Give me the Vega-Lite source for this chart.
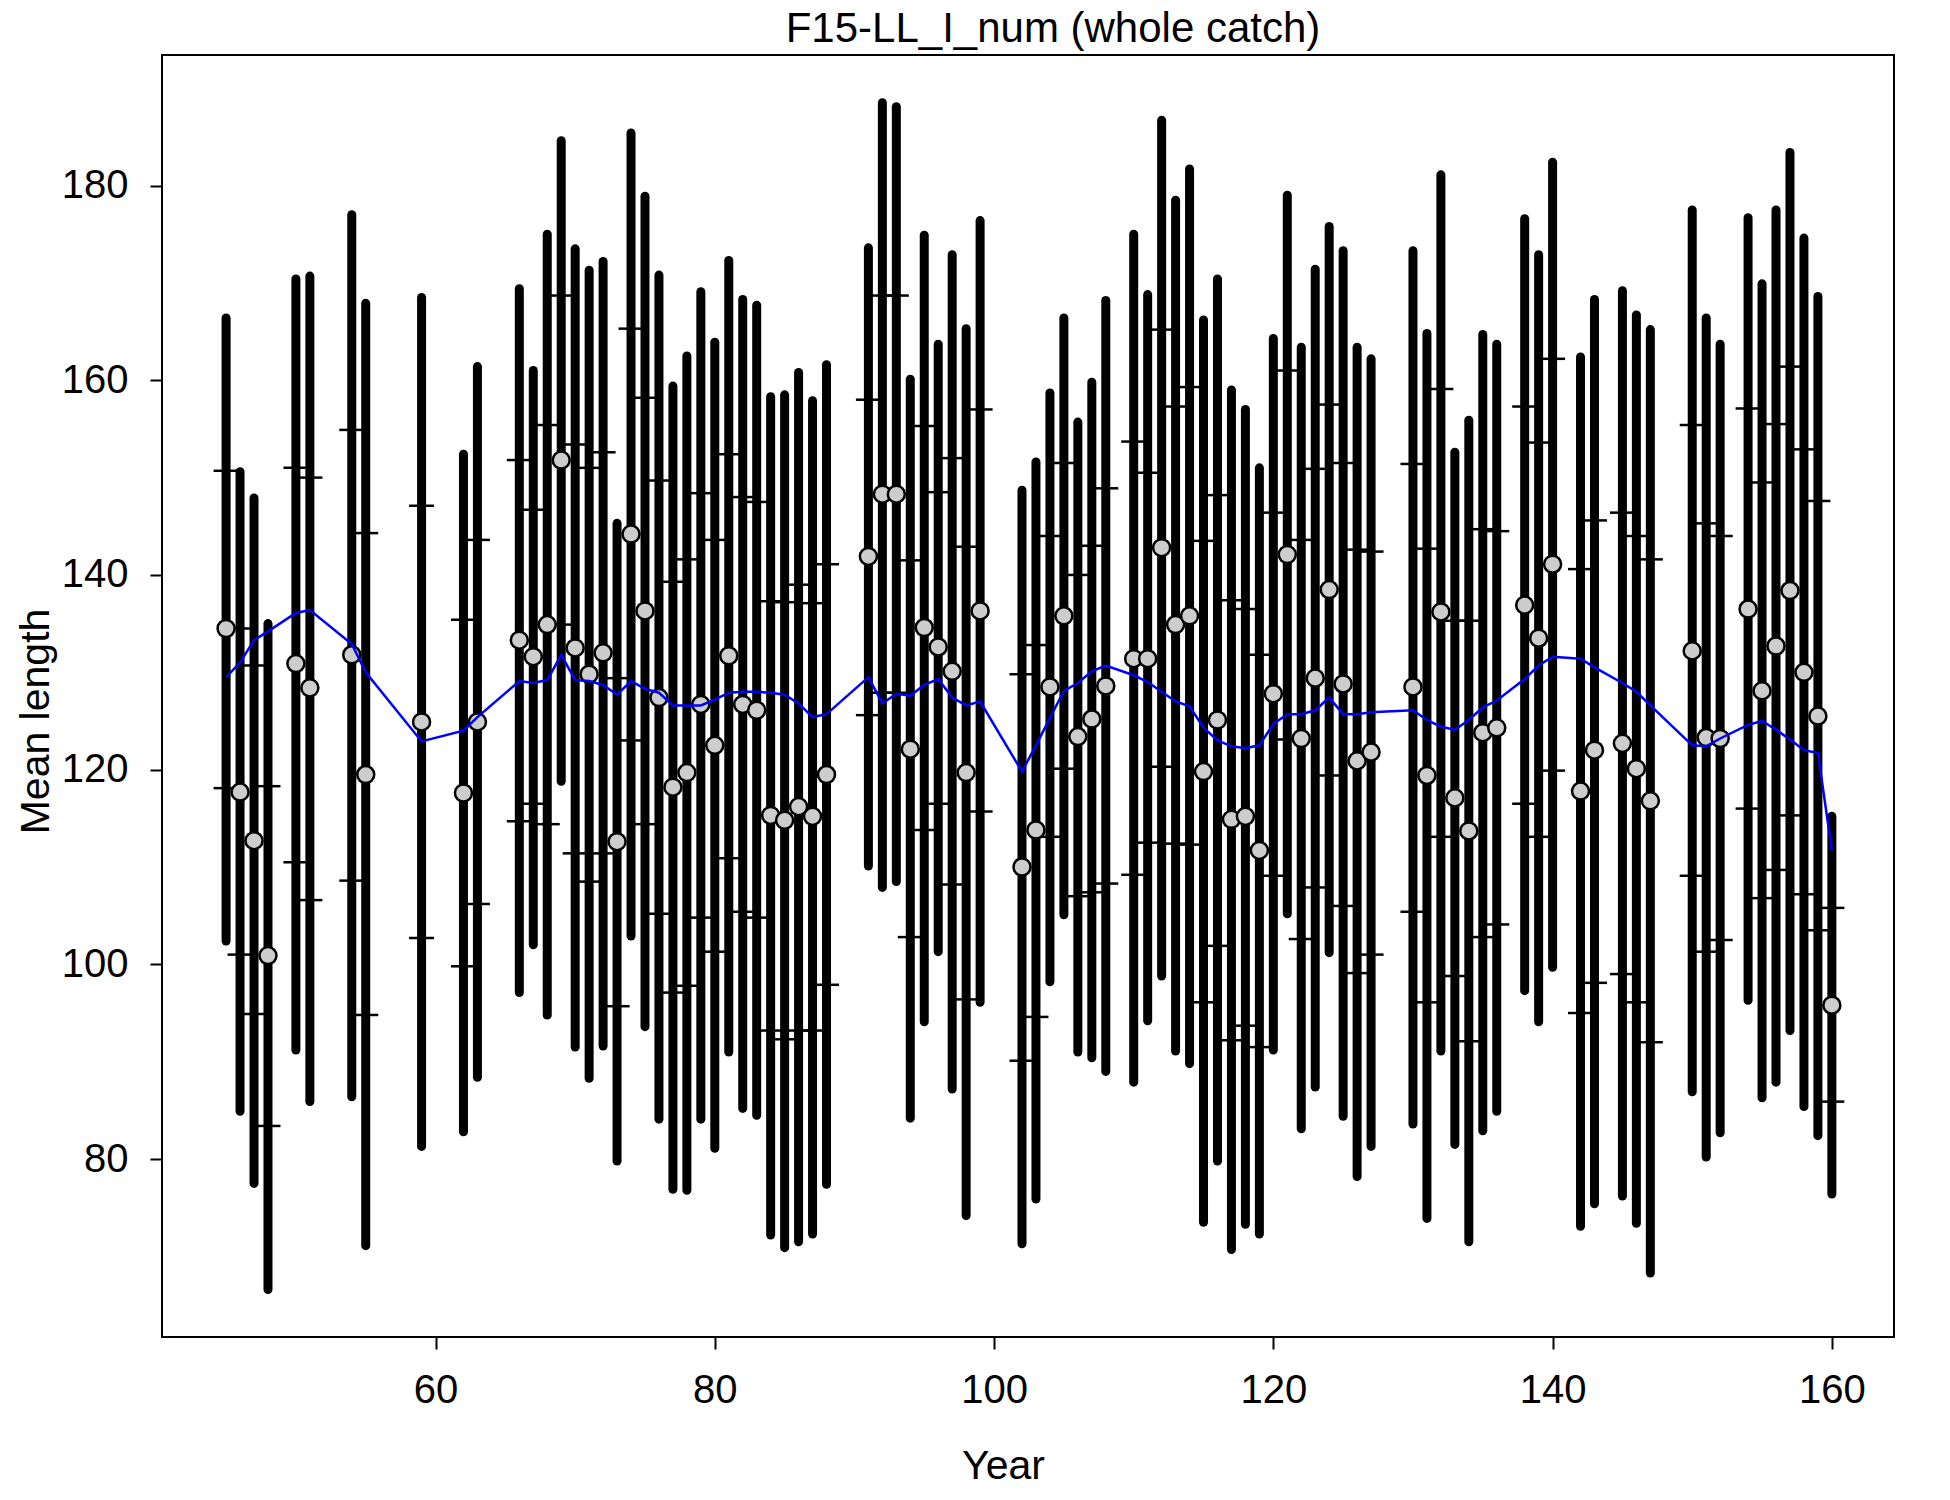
{
  "$schema": "https://vega.github.io/schema/vega-lite/v6.json",
  "autosize": {"type": "none"},
  "padding": {"left": 162, "top": 55, "right": 56, "bottom": 163},
  "width": 1732,
  "height": 1282,
  "background": "white",
  "title": {"text": "F15-LL_I_num (whole catch)", "font": "Liberation Sans", "fontSize": 42, "fontWeight": "normal", "color": "black", "anchor": "middle", "frame": "group", "baseline": "bottom", "offset": 4, "dx": 25, "dy": 42},
  "data": {"values": [
    {"year":45,"obs":134.5,"lo":102.4,"hi":166.4,"tlo":118.1,"thi":150.7,"exp":129.5},
    {"year":46,"obs":117.7,"lo":84.9,"hi":150.6,"tlo":101.0,"thi":134.5,"exp":131.0},
    {"year":47,"obs":112.7,"lo":77.5,"hi":147.9,"tlo":94.9,"thi":130.7,"exp":133.3},
    {"year":48,"obs":100.9,"lo":66.6,"hi":135.0,"tlo":83.4,"thi":118.3,"exp":134.2},
    {"year":50,"obs":130.9,"lo":91.2,"hi":170.4,"tlo":110.5,"thi":151.0,"exp":136.1},
    {"year":51,"obs":128.4,"lo":85.9,"hi":170.7,"tlo":106.6,"thi":150.0,"exp":136.4},
    {"year":54,"obs":131.8,"lo":86.4,"hi":177.0,"tlo":108.6,"thi":154.9,"exp":132.9},
    {"year":55,"obs":119.5,"lo":71.1,"hi":167.9,"tlo":94.8,"thi":144.3,"exp":130.0},
    {"year":59,"obs":124.9,"lo":81.3,"hi":168.5,"tlo":102.7,"thi":147.1,"exp":122.9},
    {"year":62,"obs":117.6,"lo":82.8,"hi":152.4,"tlo":99.8,"thi":135.4,"exp":124.0},
    {"year":63,"obs":124.9,"lo":88.4,"hi":161.4,"tlo":106.2,"thi":143.6,"exp":125.4},
    {"year":66,"obs":133.3,"lo":97.1,"hi":169.4,"tlo":114.7,"thi":151.8,"exp":129.1},
    {"year":67,"obs":131.6,"lo":102.0,"hi":161.0,"tlo":116.5,"thi":146.7,"exp":128.9},
    {"year":68,"obs":134.9,"lo":94.8,"hi":175.0,"tlo":114.4,"thi":155.4,"exp":129.2},
    {"year":69,"obs":151.8,"lo":118.8,"hi":184.6,"tlo":134.9,"thi":168.7,"exp":131.8},
    {"year":70,"obs":132.5,"lo":91.5,"hi":173.5,"tlo":111.4,"thi":153.4,"exp":129.2},
    {"year":71,"obs":129.8,"lo":88.3,"hi":171.3,"tlo":108.5,"thi":151.0,"exp":129.1},
    {"year":72,"obs":132.0,"lo":91.6,"hi":172.2,"tlo":111.4,"thi":152.6,"exp":128.7},
    {"year":73,"obs":112.6,"lo":79.8,"hi":145.3,"tlo":95.7,"thi":129.4,"exp":127.7},
    {"year":74,"obs":144.2,"lo":102.9,"hi":185.4,"tlo":123.0,"thi":165.3,"exp":129.1},
    {"year":75,"obs":136.3,"lo":93.6,"hi":178.9,"tlo":114.4,"thi":158.2,"exp":128.3},
    {"year":76,"obs":127.4,"lo":84.1,"hi":170.8,"tlo":105.2,"thi":149.7,"exp":127.9},
    {"year":77,"obs":118.2,"lo":76.9,"hi":159.4,"tlo":97.1,"thi":139.3,"exp":126.6},
    {"year":78,"obs":119.7,"lo":76.8,"hi":162.5,"tlo":97.8,"thi":141.6,"exp":126.6},
    {"year":79,"obs":126.7,"lo":84.1,"hi":169.1,"tlo":104.8,"thi":148.4,"exp":126.6},
    {"year":80,"obs":122.5,"lo":81.1,"hi":163.9,"tlo":101.3,"thi":143.6,"exp":127.2},
    {"year":81,"obs":131.7,"lo":91.0,"hi":172.3,"tlo":110.9,"thi":152.4,"exp":127.9},
    {"year":82,"obs":126.7,"lo":85.2,"hi":168.3,"tlo":105.4,"thi":148.0,"exp":128.0},
    {"year":83,"obs":126.1,"lo":84.5,"hi":167.7,"tlo":104.8,"thi":147.5,"exp":128.0},
    {"year":84,"obs":115.3,"lo":72.2,"hi":158.3,"tlo":93.2,"thi":137.3,"exp":127.9},
    {"year":85,"obs":114.8,"lo":70.9,"hi":158.5,"tlo":92.3,"thi":137.2,"exp":127.7},
    {"year":86,"obs":116.2,"lo":71.5,"hi":160.8,"tlo":93.2,"thi":139.0,"exp":126.8},
    {"year":87,"obs":115.2,"lo":72.3,"hi":157.9,"tlo":93.2,"thi":137.1,"exp":125.4},
    {"year":88,"obs":119.5,"lo":77.4,"hi":161.6,"tlo":97.9,"thi":141.1,"exp":125.7},
    {"year":91,"obs":141.9,"lo":110.1,"hi":173.6,"tlo":125.6,"thi":158.0,"exp":129.5},
    {"year":92,"obs":148.3,"lo":107.9,"hi":188.5,"tlo":127.9,"thi":168.7,"exp":126.8},
    {"year":93,"obs":148.3,"lo":108.5,"hi":188.1,"tlo":127.9,"thi":168.7,"exp":127.8},
    {"year":94,"obs":122.1,"lo":84.2,"hi":160.1,"tlo":102.8,"thi":141.5,"exp":127.6},
    {"year":95,"obs":134.6,"lo":94.1,"hi":174.9,"tlo":113.8,"thi":155.3,"exp":128.7},
    {"year":96,"obs":132.6,"lo":101.3,"hi":163.7,"tlo":116.5,"thi":148.5,"exp":129.3},
    {"year":97,"obs":130.1,"lo":87.2,"hi":172.9,"tlo":108.2,"thi":152.0,"exp":127.4},
    {"year":98,"obs":119.7,"lo":74.2,"hi":165.3,"tlo":96.4,"thi":142.9,"exp":126.6},
    {"year":99,"obs":136.3,"lo":96.1,"hi":176.4,"tlo":115.7,"thi":157.0,"exp":127.0},
    {"year":102,"obs":110.0,"lo":71.3,"hi":148.7,"tlo":90.1,"thi":129.8,"exp":119.8},
    {"year":103,"obs":113.8,"lo":75.9,"hi":151.6,"tlo":94.6,"thi":132.8,"exp":122.5},
    {"year":104,"obs":128.5,"lo":98.2,"hi":158.7,"tlo":113.1,"thi":144.0,"exp":125.3},
    {"year":105,"obs":135.8,"lo":105.1,"hi":166.4,"tlo":120.1,"thi":151.5,"exp":128.1},
    {"year":106,"obs":123.4,"lo":91.0,"hi":155.7,"tlo":107.0,"thi":140.0,"exp":128.9},
    {"year":107,"obs":125.2,"lo":90.4,"hi":159.8,"tlo":107.4,"thi":143.0,"exp":130.1},
    {"year":108,"obs":128.6,"lo":89.0,"hi":168.2,"tlo":108.3,"thi":148.9,"exp":130.7},
    {"year":110,"obs":131.4,"lo":87.9,"hi":175.0,"tlo":109.2,"thi":153.7,"exp":129.7},
    {"year":111,"obs":131.4,"lo":94.2,"hi":168.8,"tlo":112.5,"thi":150.5,"exp":129.0},
    {"year":112,"obs":142.8,"lo":98.8,"hi":186.7,"tlo":120.3,"thi":165.2,"exp":128.0},
    {"year":113,"obs":134.9,"lo":91.1,"hi":178.5,"tlo":112.4,"thi":157.3,"exp":127.0},
    {"year":114,"obs":135.8,"lo":89.8,"hi":181.7,"tlo":112.3,"thi":159.3,"exp":126.5},
    {"year":115,"obs":119.8,"lo":73.5,"hi":166.2,"tlo":96.1,"thi":143.5,"exp":124.3},
    {"year":116,"obs":125.1,"lo":79.8,"hi":170.4,"tlo":101.9,"thi":148.2,"exp":123.0},
    {"year":117,"obs":114.9,"lo":70.7,"hi":159.0,"tlo":92.2,"thi":137.4,"exp":122.4},
    {"year":118,"obs":115.2,"lo":73.3,"hi":157.0,"tlo":93.7,"thi":136.5,"exp":122.2},
    {"year":119,"obs":111.7,"lo":72.3,"hi":151.0,"tlo":91.5,"thi":131.8,"exp":122.5},
    {"year":120,"obs":127.8,"lo":91.2,"hi":164.3,"tlo":109.1,"thi":146.4,"exp":124.7},
    {"year":121,"obs":142.1,"lo":105.2,"hi":179.0,"tlo":123.1,"thi":161.0,"exp":125.7},
    {"year":122,"obs":123.2,"lo":83.1,"hi":163.4,"tlo":102.6,"thi":143.6,"exp":125.7},
    {"year":123,"obs":129.4,"lo":87.4,"hi":171.4,"tlo":107.9,"thi":150.9,"exp":126.1},
    {"year":124,"obs":138.5,"lo":101.2,"hi":175.8,"tlo":119.4,"thi":157.5,"exp":127.4},
    {"year":125,"obs":128.8,"lo":84.4,"hi":173.3,"tlo":106.0,"thi":151.5,"exp":125.7},
    {"year":126,"obs":120.9,"lo":78.2,"hi":163.4,"tlo":99.1,"thi":142.6,"exp":125.7},
    {"year":127,"obs":121.8,"lo":81.3,"hi":162.2,"tlo":101.0,"thi":142.4,"exp":125.9},
    {"year":130,"obs":128.5,"lo":83.6,"hi":173.3,"tlo":105.4,"thi":151.4,"exp":126.1},
    {"year":131,"obs":119.4,"lo":73.9,"hi":164.8,"tlo":96.1,"thi":142.7,"exp":125.1},
    {"year":132,"obs":136.2,"lo":91.1,"hi":181.1,"tlo":113.1,"thi":159.1,"exp":124.4},
    {"year":133,"obs":117.1,"lo":81.5,"hi":152.6,"tlo":98.8,"thi":135.3,"exp":124.1},
    {"year":134,"obs":113.7,"lo":71.5,"hi":155.9,"tlo":92.1,"thi":135.3,"exp":125.1},
    {"year":135,"obs":123.8,"lo":82.9,"hi":164.7,"tlo":102.8,"thi":144.7,"exp":126.4},
    {"year":136,"obs":124.3,"lo":84.9,"hi":163.7,"tlo":104.1,"thi":144.5,"exp":127.1},
    {"year":138,"obs":136.9,"lo":97.3,"hi":176.6,"tlo":116.5,"thi":157.3,"exp":129.3},
    {"year":139,"obs":133.5,"lo":94.1,"hi":172.9,"tlo":113.1,"thi":153.6,"exp":130.7},
    {"year":140,"obs":141.1,"lo":99.7,"hi":182.4,"tlo":119.9,"thi":162.2,"exp":131.6},
    {"year":142,"obs":117.8,"lo":73.1,"hi":162.4,"tlo":95.0,"thi":140.6,"exp":131.4},
    {"year":143,"obs":122.0,"lo":75.4,"hi":168.3,"tlo":98.1,"thi":145.6,"exp":130.5},
    {"year":145,"obs":122.7,"lo":76.2,"hi":169.2,"tlo":99.0,"thi":146.4,"exp":128.9},
    {"year":146,"obs":120.1,"lo":73.4,"hi":166.7,"tlo":96.1,"thi":144.0,"exp":128.0},
    {"year":147,"obs":116.8,"lo":68.3,"hi":165.2,"tlo":92.0,"thi":141.6,"exp":126.6},
    {"year":150,"obs":132.2,"lo":86.9,"hi":177.5,"tlo":109.1,"thi":155.4,"exp":122.5},
    {"year":151,"obs":123.3,"lo":80.2,"hi":166.4,"tlo":101.3,"thi":145.3,"exp":122.4},
    {"year":152,"obs":123.2,"lo":82.7,"hi":163.7,"tlo":102.5,"thi":144.0,"exp":123.2},
    {"year":154,"obs":136.5,"lo":96.3,"hi":176.7,"tlo":116.0,"thi":157.1,"exp":124.6},
    {"year":155,"obs":128.1,"lo":86.3,"hi":169.9,"tlo":106.8,"thi":149.5,"exp":125.0},
    {"year":156,"obs":132.7,"lo":87.9,"hi":177.5,"tlo":109.7,"thi":155.5,"exp":124.1},
    {"year":157,"obs":138.4,"lo":93.2,"hi":183.4,"tlo":115.3,"thi":161.4,"exp":123.1},
    {"year":158,"obs":130.0,"lo":85.4,"hi":174.6,"tlo":107.2,"thi":152.9,"exp":122.0},
    {"year":159,"obs":125.5,"lo":82.4,"hi":168.6,"tlo":103.5,"thi":147.6,"exp":121.7},
    {"year":160,"obs":95.8,"lo":76.4,"hi":115.2,"tlo":85.9,"thi":105.8,"exp":111.7}
  ]},
  "encoding": {
    "x": {"field": "year", "type": "quantitative", "title": "Year",
          "scale": {"domain": [40.41, 164.45], "nice": false, "zero": false},
          "axis": {"values": [60, 80, 100, 120, 140, 160], "labelPadding": 21, "titlePadding": 36, "titleX": 841}}
  },
  "layer": [
    {
      "mark": {"type": "rule", "color": "black", "strokeWidth": 9, "strokeCap": "round"},
      "encoding": {
        "y": {"field": "lo", "type": "quantitative", "title": "Mean length",
              "scale": {"domain": [61.72, 193.41], "nice": false, "zero": false},
              "axis": {"values": [80, 100, 120, 140, 160, 180], "labelPadding": 22, "titlePadding": 4, "titleY": 666}},
        "y2": {"field": "hi"}
      }
    },
    {
      "mark": {"type": "tick", "orient": "horizontal", "color": "black", "size": 25, "thickness": 2.5, "opacity": 1},
      "encoding": {"y": {"field": "tlo", "type": "quantitative", "title": "Mean length"}}
    },
    {
      "mark": {"type": "tick", "orient": "horizontal", "color": "black", "size": 25, "thickness": 2.5, "opacity": 1},
      "encoding": {"y": {"field": "thi", "type": "quantitative", "title": "Mean length"}}
    },
    {
      "mark": {"type": "point", "shape": "circle", "filled": true, "fill": "#cdcdcd", "stroke": "black", "strokeWidth": 2.5, "size": 290, "opacity": 1},
      "encoding": {"y": {"field": "obs", "type": "quantitative", "title": "Mean length"}}
    },
    {
      "mark": {"type": "line", "color": "#0000ff", "strokeWidth": 2.5},
      "encoding": {"y": {"field": "exp", "type": "quantitative", "title": "Mean length"}}
    }
  ],
  "config": {
    "view": {"stroke": "black", "strokeWidth": 2},
    "axis": {"domain": false, "grid": false, "ticks": true, "tickColor": "black", "tickWidth": 2, "tickSize": 12,
             "labelFont": "Liberation Sans", "labelFontSize": 40, "labelColor": "black",
             "titleFont": "Liberation Sans", "titleFontSize": 41, "titleFontWeight": "normal", "titleColor": "black"},
    "axisY": {"labelAngle": 0}
  }
}
